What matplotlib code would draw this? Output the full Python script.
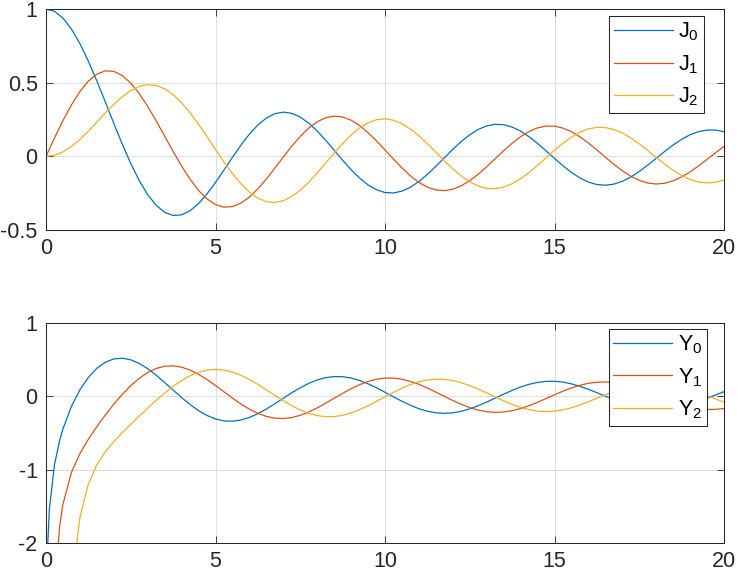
import numpy as np
import matplotlib
matplotlib.use("Agg")
import matplotlib.pyplot as plt
from matplotlib.ticker import FormatStrFormatter

plt.rcParams["font.family"] = ["Liberation Sans", "DejaVu Sans"]
plt.rcParams["mathtext.fontset"] = "custom"
plt.rcParams["mathtext.rm"] = "Liberation Sans"
plt.rcParams["mathtext.it"] = "Liberation Sans"
plt.rcParams["axes.unicode_minus"] = False

# first kind, sampled every 0.25 (upper panel)
x_j = [i * 0.25 for i in range(81)]
j0 = [1.0, 0.9844, 0.9385, 0.8642, 0.7652, 0.6459, 0.5118, 0.3690, 0.2239,
      0.0827, -0.0484, -0.1641, -0.2601, -0.3327, -0.3801, -0.4013, -0.3971,
      -0.3691, -0.3205, -0.2551, -0.1776, -0.0931, -0.0068, 0.0759, 0.1506,
      0.2130, 0.2601, 0.2894, 0.3001, 0.2919, 0.2663, 0.2252, 0.1717,
      0.1092, 0.0419, -0.0259, -0.0903, -0.1474, -0.1939, -0.2272, -0.2459,
      -0.2486, -0.2361, -0.2098, -0.1712, -0.1226, -0.0676, -0.0097, 0.0477,
      0.1007, 0.1464, 0.1826, 0.2069, 0.2175, 0.2145, 0.1988, 0.1711,
      0.1330, 0.0874, 0.0374, -0.0142, -0.0639, -0.1089, -0.1467, -0.1749,
      -0.1914, -0.1959, -0.1887, -0.1699, -0.1405, -0.1029, -0.0597, -0.0134,
      0.0331, 0.0769, 0.1155, 0.1466, 0.1678, 0.1784, 0.1782, 0.1670]
j1 = [0.0, 0.1240, 0.2423, 0.3492, 0.4401, 0.5106, 0.5579, 0.5802, 0.5767,
      0.5484, 0.4971, 0.4260, 0.3391, 0.2411, 0.1374, 0.0333, -0.0660,
      -0.1555, -0.2311, -0.2892, -0.3276, -0.3450, -0.3414, -0.3179, -0.2767,
      -0.2207, -0.1538, -0.0803, -0.0047, 0.0685, 0.1352, 0.1915, 0.2346,
      0.2621, 0.2731, 0.2672, 0.2453, 0.2090, 0.1610, 0.1047, 0.0435,
      -0.0189, -0.0786, -0.1323, -0.1768, -0.2090, -0.2278, -0.2327, -0.2234,
      -0.2001, -0.1651, -0.1210, -0.0703, -0.0162, 0.0379, 0.0888, 0.1334,
      0.1687, 0.1930, 0.2054, 0.2051, 0.1917, 0.1668, 0.1324, 0.0904,
      0.0433, -0.0057, -0.0537, -0.0977, -0.1348, -0.1630, -0.1812, -0.1880,
      -0.1827, -0.1662, -0.1401, -0.1057, -0.0650, -0.0209, 0.0239, 0.0668]
j2 = [0.0, 0.0076, 0.0306, 0.0670, 0.1149, 0.1711, 0.2321, 0.2941, 0.3528,
      0.4048, 0.4461, 0.4739, 0.4861, 0.4811, 0.4586, 0.4191, 0.3641,
      0.2959, 0.2178, 0.1333, 0.0466, -0.0383, -0.1173, -0.1865, -0.2429,
      -0.2836, -0.3074, -0.3132, -0.3014, -0.2730, -0.2302, -0.1758, -0.1130,
      -0.0457, 0.0224, 0.0870, 0.1448, 0.1926, 0.2278, 0.2487, 0.2546,
      0.2449, 0.2211, 0.1852, 0.1390, 0.0854, 0.0280, -0.0299, -0.0849,
      -0.1334, -0.1728, -0.2016, -0.2177, -0.2200, -0.2089, -0.1859, -0.1520,
      -0.1093, -0.0608, -0.0096, 0.0416, 0.0890, 0.1304, 0.1635, 0.1862,
      0.1967, 0.1952, 0.1823, 0.1584, 0.1249, 0.0843, 0.0393, -0.0075,
      -0.0531, -0.0949, -0.1304, -0.1577, -0.1746, -0.1805, -0.1758, -0.1603]

# second kind, lower panel (runs off the bottom near zero)
x_y = [0.04, 0.1, 0.25, 0.4] + [i * 0.25 for i in range(2, 81)]
y0 = [-2.123, -1.5342, -0.9316, -0.6060, -0.4445, -0.1372, 0.0883, 0.2584,
      0.3824, 0.4653, 0.5104, 0.5201, 0.4981, 0.4486, 0.3769, 0.2883, 0.1890,
      0.0853, -0.0169, -0.1119, -0.1947, -0.2612, -0.3085, -0.3347, -0.3395,
      -0.3233, -0.2882, -0.2368, -0.1730, -0.1013, -0.0259, 0.0483, 0.1169,
      0.1765, 0.2235, 0.2547, 0.2695, 0.2679, 0.2499, 0.2165, 0.1709,
      0.1162, 0.0557, -0.0067, -0.0672, -0.1223, -0.1688, -0.2033, -0.2246,
      -0.2321, -0.2252, -0.2040, -0.1708, -0.1280, -0.0782, -0.0244, 0.0299,
      0.0815, 0.1272, 0.1639, 0.1898, 0.2040, 0.2055, 0.1937, 0.1702,
      0.1370, 0.0958, 0.0501, 0.0021, -0.0452, -0.0890, -0.1280, -0.1583,
      -0.1786, -0.1875, -0.1838, -0.1691, -0.1446, -0.1116, -0.0709, -0.0265,
      0.0189, 0.0626]
y1 = [-15.96, -6.4590, -2.7041, -1.7809, -1.4715, -1.0372, -0.7812, -0.5843,
      -0.4123, -0.2538, -0.1070, 0.0272, 0.1459, 0.2460, 0.3247, 0.3798,
      0.4102, 0.4158, 0.3979, 0.3585, 0.3010, 0.2292, 0.1479, 0.0621,
      -0.0234, -0.1040, -0.1750, -0.2322, -0.2734, -0.2973, -0.3027, -0.2891,
      -0.2587, -0.2141, -0.1581, -0.0940, -0.0263, 0.0411, 0.1043, 0.1590,
      0.2026, 0.2332, 0.2490, 0.2486, 0.2332, 0.2043, 0.1637, 0.1137,
      0.0579, -0.0002, -0.0571, -0.1091, -0.1534, -0.1878, -0.2101, -0.2185,
      -0.2135, -0.1959, -0.1666, -0.1273, -0.0809, -0.0304, 0.0211, 0.0703,
      0.1144, 0.1510, 0.1779, 0.1926, 0.1955, 0.1869, 0.1672, 0.1367,
      0.0981, 0.0539, 0.0067, -0.0391, -0.0819, -0.1195, -0.1495, -0.1698,
      -0.1793, -0.1779, -0.1655]
y2 = [-796.0, -127.6, -20.70, -8.298, -5.4415, -2.6287, -1.6507, -1.1933,
      -0.9322, -0.7554, -0.6174, -0.4959, -0.3814, -0.2697, -0.1604, -0.0546,
      0.0454, 0.1365, 0.2159, 0.2806, 0.3285, 0.3577, 0.3677, 0.3584,
      0.3310, 0.2871, 0.2299, 0.1625, 0.0889, 0.0132, -0.0606, -0.1281,
      -0.1859, -0.2318, -0.2630, -0.2775, -0.2757, -0.2585, -0.2267, -0.1821,
      -0.1282, -0.0684, -0.0059, 0.0552, 0.1116, 0.1603, 0.1986, 0.2235,
      0.2347, 0.2321, 0.2157, 0.1862, 0.1463, 0.0985, 0.0459, -0.0086,
      -0.0615, -0.1100, -0.1510, -0.1818, -0.2010, -0.2081, -0.2027, -0.1845,
      -0.1554, -0.1178, -0.0736, -0.0264, 0.0216, 0.0675, 0.1087, 0.1439,
      0.1695, 0.1847, 0.1882, 0.1795, 0.1602, 0.1319, 0.0959, 0.0533,
      0.0081, -0.0369, -0.0792]

j_labels = [r"$\mathrm{J_0}$", r"$\mathrm{J_1}$", r"$\mathrm{J_2}$"]
y_labels = [r"$\mathrm{Y_0}$", r"$\mathrm{Y_1}$", r"$\mathrm{Y_2}$"]
x_ticks = [0, 5, 10, 15, 20]
j_yticks = [-0.5, 0, 0.5, 1]
y_yticks = [-2, -1, 0, 1]

colors = ["#0072BD", "#D95319", "#EDB120"]
FS = 15.5
W, H = 737, 575


def style_axes(ax, yticks):
    ax.set_xlim(0, 20)
    ax.set_ylim(yticks[0], yticks[-1])
    ax.set_xticks(x_ticks)
    ax.set_yticks(yticks)
    ax.yaxis.set_major_formatter(FormatStrFormatter("%g"))
    ax.grid(True, color="#dfdfdf", linewidth=0.7)
    ax.set_axisbelow(True)
    ax.tick_params(direction="in", length=5, width=0.6, top=True, right=True,
                   labelsize=FS, colors="#262626", pad=6)
    for s in ax.spines.values():
        s.set_color("#262626")
        s.set_linewidth(0.75)


def legend(ax, anchor):
    leg = ax.legend(loc="upper right", bbox_to_anchor=anchor, borderaxespad=0,
                    fontsize=FS, frameon=True, fancybox=False, framealpha=1,
                    edgecolor="#262626", handlelength=2.75, handletextpad=0.25,
                    borderpad=0.22, labelspacing=0.45)
    leg.get_frame().set_linewidth(0.75)


fig = plt.figure(figsize=(W / 100, H / 100), dpi=100)
ax1 = fig.add_axes([46 / W, 1 - 230 / H, 678 / W, 221 / H])
ax2 = fig.add_axes([46 / W, 1 - 543 / H, 678 / W, 220 / H])

for vals, lab, c in zip([j0, j1, j2], j_labels, colors):
    ax1.plot(x_j, vals, color=c, lw=0.9, label=lab)
style_axes(ax1, j_yticks)
legend(ax1, (0.9705, 0.968))

for vals, lab, c in zip([y0, y1, y2], y_labels, colors):
    ax2.plot(x_y, vals, color=c, lw=0.9, label=lab)
style_axes(ax2, y_yticks)
legend(ax2, (0.975, 0.973))

fig.savefig("out.png", dpi=100)
